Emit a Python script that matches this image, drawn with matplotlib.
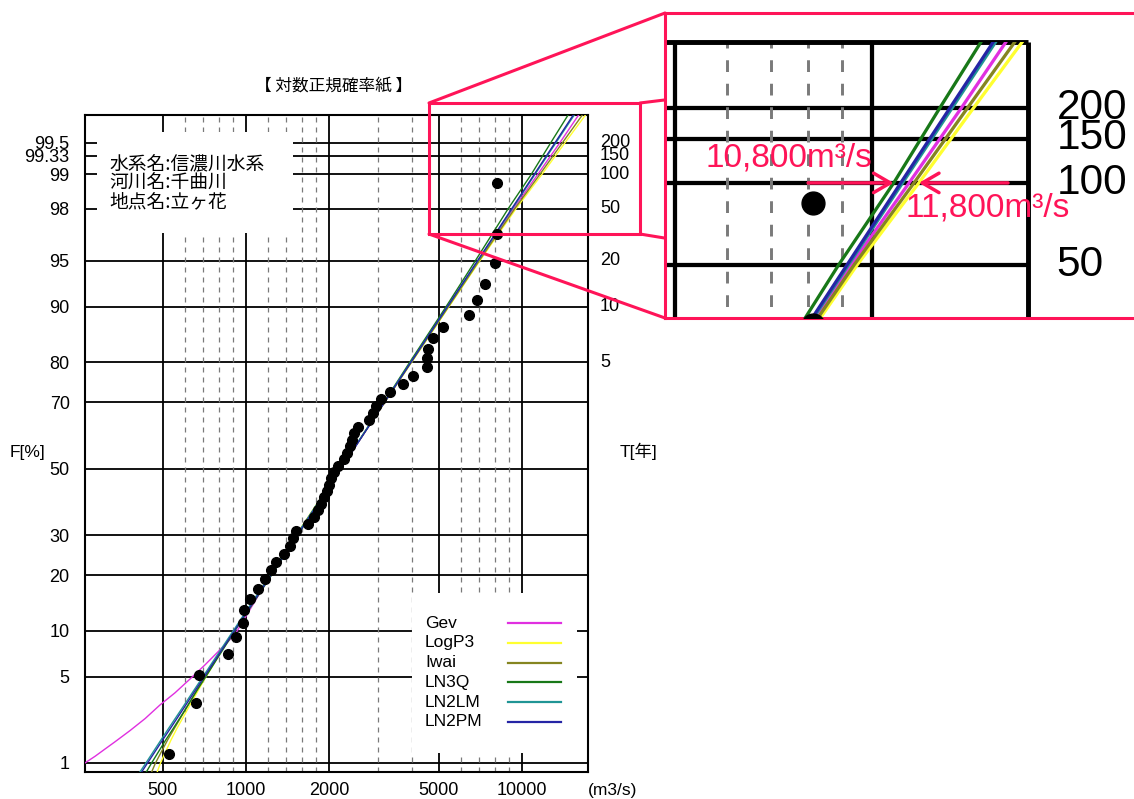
import matplotlib.pyplot as plt
import numpy as np
from statistics import NormalDist
from matplotlib.patches import Rectangle, ConnectionPatch

plt.rcParams['font.family'] = ['Liberation Sans', 'Noto Sans CJK JP', 'DejaVu Sans']

RED = '#ff1458'
W, H = 1134, 799

# 年最大流量 (m3/s) 昇順
flows = [526, 659, 675, 861, 920, 975, 984, 1034, 1105, 1172,
         1232, 1284, 1375, 1443, 1480, 1517, 1678, 1763, 1824, 1869,
         1917, 1964, 1998, 2033, 2085, 2154, 2263, 2320, 2380, 2420,
         2460, 2535, 2790, 2880, 2960, 3085, 3326, 3704, 4025, 4526,
         4530, 4570, 4758, 5175, 6425, 6862, 7340, 7978, 8120, 8120]

# 目盛
f_ticks = [1, 5, 10, 20, 30, 50, 70, 80, 90, 95, 98, 99, 99.33, 99.5]
f_labels = ['1', '5', '10', '20', '30', '50', '70', '80', '90', '95', '98', '99', '99.33', '99.5']
t_ticks = [5, 10, 20, 50, 100, 150, 200]
x_major = [500, 1000, 2000, 5000, 10000]
x_minor = [600, 700, 800, 900, 1200, 1400, 1600, 1800, 3000, 4000,
           6000, 7000, 8000, 9000]

# 分布ごとの非超過確率別流量 (m3/s)
curve_f = [0.5, 1, 1.6, 2, 3, 4, 5, 7, 10, 20, 30, 50, 70, 80, 90, 95, 98, 99, 99.5, 99.8]
logp3_q = [445, 490, 535, 562, 622, 672, 716, 798, 905, 1222, 1520, 2195, 3180, 3980,
           5440, 7040, 9500, 11800, 14300, 18100]
iwai_q = [420, 470, 520, 550, 612, 664, 710, 795, 905, 1225, 1525, 2200, 3180, 3975,
          5420, 7000, 9400, 11600, 14000, 17600]
ln3q_q = [390, 455, 512, 545, 612, 665, 715, 800, 912, 1238, 1540, 2205, 3160, 3920,
          5310, 6780, 8900, 10800, 12700, 15500]
ln2lm_q = [364, 434, 492, 524, 592, 648, 698, 785, 899, 1222, 1525, 2198, 3169, 3954,
           5374, 6926, 9211, 11140, 13260, 16370]
ln2pm_q = [370, 440, 499, 532, 600, 656, 706, 794, 908, 1232, 1536, 2208, 3176, 3957,
           5368, 6905, 9167, 11070, 13160, 16230]
# Gev は下側で曲がるので細かく
gev_f = [0.93, 1, 1.15, 1.33, 1.54, 1.92, 2.41, 3.09, 3.82, 4.82, 6.04, 7.61, 9.49,
         20, 30, 50, 70, 80, 90, 95, 98, 99, 99.5, 99.8]
gev_q = [250, 261, 284, 308, 335, 380, 431, 488, 553, 627, 710, 805, 912,
         1228, 1528, 2205, 3175, 3960, 5390, 6950, 9300, 11400, 13700, 17000]

names = ['Gev', 'LogP3', 'Iwai', 'LN3Q', 'LN2LM', 'LN2PM']
curves = [(gev_f, gev_q), (curve_f, logp3_q), (curve_f, iwai_q),
          (curve_f, ln3q_q), (curve_f, ln2lm_q), (curve_f, ln2pm_q)]
colors = ['#e030e0', '#ffff30', '#858520', '#187818', '#209595', '#2525a5']

nd = NormalDist()


def z(p):
    return np.array([nd.inv_cdf(v / 100.0) for v in p])


n = len(flows)
plot_pos = [(i - 0.4) / (n + 0.2) * 100 for i in range(1, n + 1)]  # Cunnane

xmin, xmax = 261, 17340
zmin, zmax = -2.398, 2.796
t_x = xmax * 10 ** (12 / 276)


def draw_paper(ax, k, clip=False):
    arts = []
    arts.append(ax.hlines(z(f_ticks), xmin, xmax, colors='k', lw=1.3 * k, zorder=1))
    arts.append(ax.vlines(x_major, zmin, zmax, colors='k', lw=1.3 * k, zorder=1))
    arts.append(ax.vlines(x_minor, zmin, zmax, colors='#7a7a7a', lw=0.9 * k,
                          linestyles=(0, (4, 4)), zorder=1))
    for (f, q), c in zip(curves, colors):
        arts += ax.plot(q, z(f), color=c, lw=1.0 * k, zorder=4)
    arts += ax.plot(flows, z(plot_pos), 'o', color='k', ms=7 * k, zorder=5)
    for t in t_ticks:
        ax.text(t_x, z([100 - 100 / t])[0], str(t), fontsize=13 * k,
                va='center', ha='left', clip_on=clip)
    if clip:
        # 本図の枠内かつ拡大図の表示範囲内だけ描く
        x0, _ = ax.get_xlim()
        z0, _ = ax.get_ylim()
        box = Rectangle((x0, z0), xmax - x0, zmax - z0, transform=ax.transData)
        for a in arts:
            a.set_clip_path(box)
    return arts


fig = plt.figure(figsize=(W / 100, H / 100), dpi=100)

# 本図
ax = fig.add_axes([85 / W, 1 - 772 / H, 503 / W, 657 / H])
ax.set_xscale('log')
ax.set_xlim(xmin, xmax)
ax.set_ylim(zmin, zmax)
draw_paper(ax, 1.0)
ax.set_xticks(x_major, labels=[str(v) for v in x_major])
ax.minorticks_off()
ax.set_yticks(z(f_ticks), labels=f_labels)
ax.tick_params(axis='both', length=0, labelsize=13)
ax.tick_params(axis='x', pad=7)
ax.tick_params(axis='y', pad=11)
for s in ax.spines.values():
    s.set_linewidth(1.5)

# 地点情報の枠
ax.add_patch(Rectangle((0.024, 0.820), 0.39, 0.154, transform=ax.transAxes,
                       facecolor='white', edgecolor='none', zorder=2))
for i, s in enumerate(['水系名:信濃川水系', '河川名:千曲川', '地点名:立ヶ花']):
    ax.text(0.049, (772 - 165 - i * 18.5) / 657, s, transform=ax.transAxes,
            fontsize=13.5, family=['Noto Sans CJK JP'], va='center', zorder=3)

# 凡例
ax.add_patch(Rectangle((0.650, 0.029), 0.328, 0.243, transform=ax.transAxes,
                       facecolor='white', edgecolor='none', zorder=2))
for i, (nm, c) in enumerate(zip(names, colors)):
    yy = (772 - 623 - i * 19.8) / 657
    ax.text(0.676, yy, nm, transform=ax.transAxes, fontsize=12.5, va='center', zorder=3)
    ax.plot([0.841, 0.946], [yy, yy], transform=ax.transAxes, color=c, lw=1.6, zorder=3)

fig.text(334 / W, 1 - 86 / H, '【 対数正規確率紙 】', ha='center', va='center',
         fontsize=12, family=['Noto Sans CJK JP'])
fig.text(10 / W, 1 - 453 / H, 'F[%]', va='center', fontsize=12.5)
fig.text(620 / W, 1 - 451 / H, 'T[年]', va='center', fontsize=12.5)
fig.text(588 / W, 1 - 790 / H, '(m3/s)', va='center', fontsize=12.5)

# 拡大図
ax_in = fig.add_axes([665 / W, 1 - 318 / H, 475 / W, 305 / H])
ax_in.set_xscale('log')
ax_in.set_xlim(10 ** 3.6837, 10 ** 4.4100)
ax_in.set_ylim(1.876, 2.8927)
k = 2.35
draw_paper(ax_in, k, clip=True)
ax_in.hlines(zmax, xmin, xmax, colors='k', lw=1.5 * k, zorder=2)
ax_in.vlines(xmax, zmin, zmax, colors='k', lw=1.5 * k, zorder=2)
ax_in.set_xticks([])
ax_in.set_yticks([])
ax_in.minorticks_off()
for s in ax_in.spines.values():
    s.set_color(RED)
    s.set_linewidth(2.2)

z99 = z([99])[0]
arrow = dict(arrowstyle='->,head_length=0.6,head_width=0.35', color=RED, lw=2.5,
             shrinkA=0, shrinkB=0, mutation_scale=20)
ax_in.annotate('', xy=(10800, z99), xytext=(7990, z99), arrowprops=arrow, zorder=6)
ax_in.annotate('', xy=(11800, z99), xytext=(16150, z99), arrowprops=arrow, zorder=6)
ax_in.text(5558, 2.409, '10,800m³/s', color=RED, fontsize=24, va='center', zorder=6)
ax_in.text(11240, 2.243, '11,800m³/s', color=RED, fontsize=24, va='center', zorder=6)

# 拡大範囲の枠と引出線
sx0, sx1, sz0, sz1 = 4603, 26770, 1.855, 2.891
ax.add_patch(Rectangle((sx0, sz0), sx1 - sx0, sz1 - sz0, fill=False, edgecolor=RED,
                       lw=2.2, clip_on=False, zorder=6))
for pa, pb in [((sx0, sz1), (0, 1)), ((sx0, sz0), (0, 0)),
               ((sx1, sz1), (0, 0.715)), ((sx1, sz0), (0, 0.262))]:
    fig.add_artist(ConnectionPatch(xyA=pa, coordsA=ax.transData, xyB=pb,
                                   coordsB=ax_in.transAxes, color=RED, lw=2.2))

fig.savefig('out.png', dpi=100)
